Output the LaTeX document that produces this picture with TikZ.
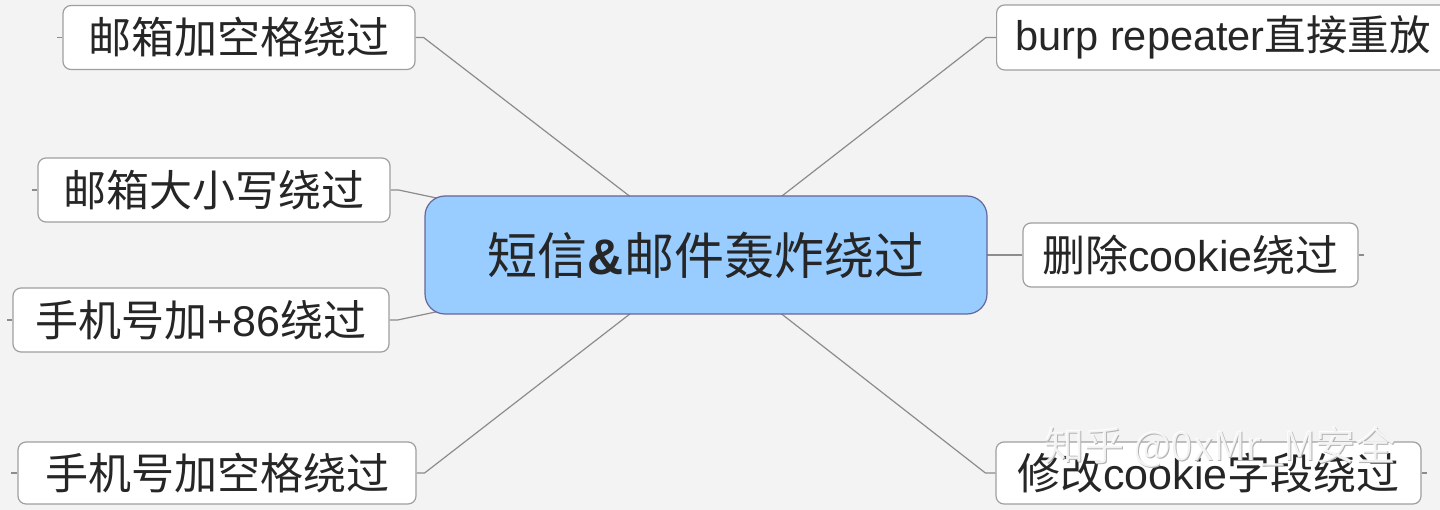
\documentclass[tikz,border=0pt]{standalone}
\usepackage{fontspec}
\setmainfont{Liberation Sans}
\newfontfamily\cjk{Noto Sans CJK SC}
\newcommand{\zh}[1]{{\cjk #1}}
\definecolor{hubblue}{HTML}{99CCFF}
\definecolor{bgpaper}{HTML}{F3F3F3}
\definecolor{edgegray}{HTML}{8C8C8C}
\pgfdeclarelayer{edges}
\pgfsetlayers{edges,main}

\begin{document}
\begin{tikzpicture}[x=1pt, y=-1pt,
    leaf/.style={rectangle, draw=gray!75, line width=1.2pt, fill=white, rounded corners=8pt,
        minimum height=64pt, inner sep=0pt, text=black!85, font=\fontsize{43}{45}\selectfont},
    hub/.style={rectangle, draw=gray!80!blue, line width=1.2pt, fill=hubblue, rounded corners=20pt,
        minimum width=562pt, minimum height=118pt, text=black!85, font=\fontsize{50}{52}\selectfont},
    branch/.style={draw=edgegray, line width=1.2pt},
    stub/.style={draw=edgegray, line width=1.2pt}
]
    \useasboundingbox (0,0) rectangle (1440,510);
    \begin{pgfonlayer}{edges}
        \fill[bgpaper] (0,0) rectangle (1440,510);
    \end{pgfonlayer}

    % centre topic
    \node[hub] (hub) at (706,255) {\zh{短信}\textbf{\&}\zh{邮件轰炸绕过}};

    % left branches
    \node[leaf, minimum width=352pt] (mailspace) at (239,37.5) {\zh{邮箱加空格绕过}};
    \node[leaf, minimum width=352pt] (mailcase) at (214,190) {\zh{邮箱大小写绕过}};
    \node[leaf, minimum width=376pt] (phone86) at (201,320) {\zh{手机号加}+86\zh{绕过}};
    \node[leaf, minimum width=398pt, minimum height=62pt] (phonespace) at (217,473) {\zh{手机号加空格绕过}};

    % right branches
    \node[leaf, anchor=west, minimum height=65pt, inner xsep=19pt, font=\fontsize{41.5}{44}\selectfont] (replay) at (996,37.5) {burp repeater\zh{直接重放}};
    \node[leaf, minimum width=335pt] (nocookie) at (1190.5,255) {\zh{删除}cookie\zh{绕过}};
    \node[leaf, minimum width=425pt, minimum height=62pt] (cookiefield) at (1208.5,473) {\zh{修改}cookie\zh{字段绕过}};

    % connectors (behind the boxes)
    \begin{pgfonlayer}{edges}
        \draw[branch] (mailspace.east) -- ++(8,0) -- (hub.center);
        \draw[branch] (mailcase.east) -- ++(8,0) -- (hub.center);
        \draw[branch] (phone86.east) -- ++(8,0) -- (hub.center);
        \draw[branch] (phonespace.east) -- ++(8,0) -- (hub.center);
        \draw[branch] (replay.west) -- ++(-10,0) -- (hub.center);
        \draw[branch] (nocookie.west) -- (hub.center);
        \draw[branch] (cookiefield.west) -- ++(-10,0) -- (hub.center);
    \end{pgfonlayer}

    % collapse stubs
    \draw[stub] (mailspace.west) -- ++(-5,0);
    \draw[stub] (mailcase.west) -- ++(-5,0);
    \draw[stub] (phone86.west) -- ++(-5,0);
    \draw[stub] (phonespace.west) -- ++(-6,0);
    \draw[stub] (nocookie.east) -- ++(5,0);
    \draw[stub] (cookiefield.east) -- ++(5,0);

    % watermark
    \node[text=gray!60, font=\cjk\fontsize{40}{42}\selectfont] (wmshadow) at (1221,448) {知乎 @0xMr\_M安全};
    \node[text=white, opacity=0.85, font=\cjk\fontsize{40}{42}\selectfont] (wm) at (1220,447) {知乎 @0xMr\_M安全};
\end{tikzpicture}
\end{document}
